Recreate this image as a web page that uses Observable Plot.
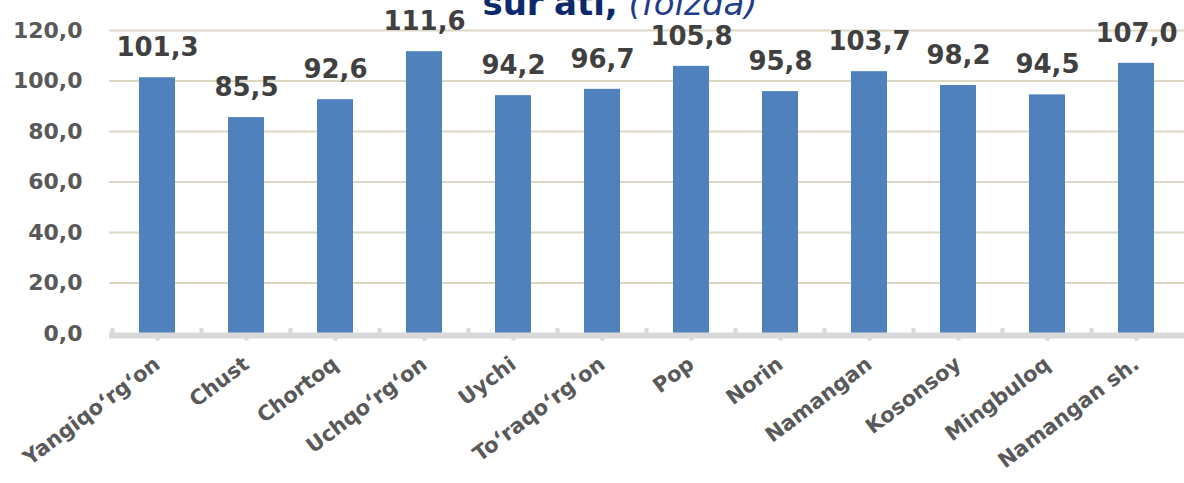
<!DOCTYPE html>
<html><head><meta charset="utf-8">
<script src="https://cdn.jsdelivr.net/npm/d3@7"></script>
<script src="https://cdn.jsdelivr.net/npm/@observablehq/plot@0.6"></script>
<style>
body{margin:0;background:#fff;overflow:hidden;font-family:"DejaVu Sans",sans-serif;}
#wrap{position:relative;width:1184px;height:483px;}
#title{position:absolute;left:0;top:-14px;width:1184px;text-align:center;padding-left:56px;box-sizing:border-box;font-size:34px;line-height:1;white-space:nowrap;font-family:"DejaVu Sans",sans-serif;z-index:2;}
#title b{color:#0b2a6e;font-weight:bold;}
#title i{color:#1f3d8a;font-weight:normal;font-style:italic;}
</style></head>
<body><div id="wrap"><div id="title"><b>sur'ati,</b> <i>(foizda)</i></div><div id="chart"></div></div>
<script>
const categories = ["Yangiqo‘rg‘on","Chust","Chortoq","Uchqo‘rg‘on","Uychi","To‘raqo‘rg‘on","Pop","Norin","Namangan","Kosonsoy","Mingbuloq","Namangan sh."];
const values = [101.3,85.5,92.6,111.6,94.2,96.7,105.8,95.8,103.7,98.2,94.5,107.0];
const yTicks = [0,20,40,60,80,100,120];
const data = categories.map((c,i)=>({cat:c, v:values[i]}));
const fmt = d => d.toFixed(1).replace(".", ",");

const chart = Plot.plot({
  width:1184, height:483,
  marginTop:30, marginBottom:150, marginLeft:109, marginRight:0,
  style:{fontFamily:"'DejaVu Sans', sans-serif", background:"transparent", overflow:"visible"},
  x:{type:"band", domain:categories, paddingInner:0.6, paddingOuter:0.3, align:0.5, label:null},
  y:{type:"linear", domain:[0,120], label:null},
  marks:[
    Plot.ruleY(yTicks.filter(d=>d>0), {stroke:"#dcd8c4", strokeWidth:2}),
    Plot.ruleX(data, {x:"cat", y1:0, y2:-3, stroke:"#d9d9d9", strokeWidth:4}),
    Plot.ruleX(data, {x:"cat", dx:-45, y1:0, y2:2, stroke:"#d9d9d9", strokeWidth:4}),
    Plot.barY(data, {x:"cat", y:"v", fill:"#4f81bd"}),
    Plot.ruleY([0], {stroke:"#d9d9d9", strokeWidth:6, dy:2}),
    Plot.axisY({ticks:yTicks, tickFormat:fmt, tickSize:0, tickPadding:27, fontSize:22, fontWeight:"bold", fill:"#595959"}),
    Plot.axisX({tickSize:0, tickPadding:28, tickRotate:-37, fontSize:21, fontWeight:"bold", fill:"#595959"}),
    Plot.text(data, {x:"cat", y:"v", text:d=>fmt(d.v), dy:-30, fontSize:26, fontWeight:"bold", fill:"#404040"})
  ]
});
document.getElementById("chart").appendChild(chart);
</script></body></html>
